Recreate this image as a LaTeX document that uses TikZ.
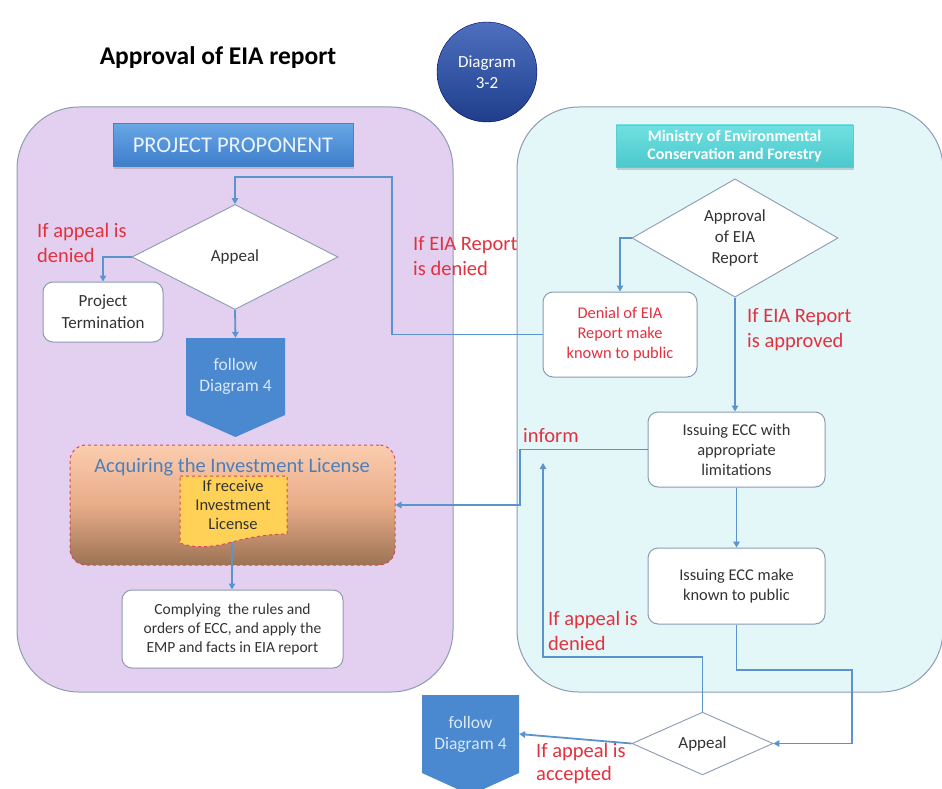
\documentclass[tikz,border=0pt]{standalone}
\usepackage{fontspec}
\setmainfont{Carlito}
\usetikzlibrary{shapes.geometric,arrows.meta,shadows}
\definecolor{lpan}{HTML}{E3D0F1}
\definecolor{rpan}{HTML}{E3F7F9}
\definecolor{panbord}{HTML}{8D9BB5}
\definecolor{connc}{HTML}{5B93CC}
\definecolor{redt}{HTML}{E2313F}
\definecolor{nbord}{HTML}{8C9BB0}
\definecolor{ntext}{HTML}{333333}
\definecolor{follc}{HTML}{4A88CF}
\definecolor{follt}{HTML}{D8E8F8}
\definecolor{acqt}{HTML}{4A7FBE}
\definecolor{dashr}{HTML}{D8475E}
\definecolor{yel}{HTML}{FFD156}
\tikzset{
  panel/.style={draw=panbord, line width=1pt, rounded corners=62pt, inner sep=0pt},
  wbox/.style={draw=nbord, fill=white, rounded corners=10pt, line width=1pt, align=center,
    text=ntext, inner sep=0pt, font=\fontsize{16.4}{20}\selectfont},
  dia/.style={diamond, draw=nbord, fill=white, line width=0.9pt, inner sep=0pt, align=center,
    text=ntext, font=\fontsize{17}{21}\selectfont},
  conn/.style={draw=connc, line width=1.8pt, -{Triangle[length=6pt,width=6.5pt]}},
  lab/.style={text=redt, font=\fontsize{20.5}{25}\selectfont, align=left, anchor=west, inner sep=0pt},
  folltext/.style={text=follt, align=center, inner sep=0pt, font=\fontsize{17.5}{21}\selectfont},
}
\begin{document}
\begin{tikzpicture}[x=1pt,y=-1pt]
\useasboundingbox (0,0) rectangle (942,789);
\clip (0,0) rectangle (942,789);
\fill[white] (0,0) rectangle (942,789);

% panels
\node[panel, fill=lpan, minimum width=436pt, minimum height=585pt] (lpanel) at (235,399.5) {};
\node[panel, fill=rpan, minimum width=426pt, minimum height=585pt] (rpanel) at (730,399.5) {};

% title and circle
\node[font=\fontsize{25.5}{28}\selectfont\bfseries, text=black, inner sep=0pt] (title) at (218,58) {Approval of EIA report};
\node[circle, minimum size=100pt, inner sep=0pt, draw=blue!40!black, top color={rgb,255:red,78;green,112;blue,190}, bottom color={rgb,255:red,30;green,62;blue,140}, text=white, align=center, font=\fontsize{17}{21}\selectfont] (circ) at (487,72) {Diagram\\3-2};

% header boxes
\node[minimum width=240pt, minimum height=43pt, inner sep=0pt, top color={rgb,255:red,104;green,166;blue,230}, bottom color={rgb,255:red,62;green,126;blue,202}, draw={rgb,255:red,70;green,130;blue,200}, drop shadow={opacity=0.35, shadow xshift=1pt, shadow yshift=-2.5pt}, text={rgb,255:red,236;green,244;blue,255}, font=\fontsize{22.5}{25}\selectfont] (pp) at (233,145) {PROJECT PROPONENT};
\node[minimum width=237pt, minimum height=42pt, inner sep=0pt, top color={rgb,255:red,112;green,224;blue,226}, bottom color={rgb,255:red,76;green,200;blue,204}, draw={rgb,255:red,90;green,205;blue,208}, drop shadow={opacity=0.35, shadow xshift=1pt, shadow yshift=-2.5pt}, text=white, align=center, font=\fontsize{16}{18}\selectfont\bfseries] (mins) at (734.5,146) {Ministry of Environmental\\Conservation and Forestry};

% left side nodes
\node[dia, minimum width=206pt, minimum height=105pt] (appeal1) at (235,257) {Appeal};
\node[wbox, minimum width=120pt, minimum height=60pt, font=\fontsize{17}{22}\selectfont] (term) at (103,312) {Project\\Termination};
\fill[follc] (186,338) -- (285,338) -- (285,415) -- (235.5,437) -- (186,415) -- cycle;
\node[folltext, minimum width=99pt, minimum height=77pt] (foll1) at (235.5,376.5) {follow\\Diagram 4};

\node[draw=dashr, dashed, line width=1pt, rounded corners=16pt, minimum width=325pt, minimum height=120pt,
  top color={rgb,255:red,251;green,205;blue,175}, bottom color={rgb,255:red,155;green,115;blue,85},
  middle color={rgb,255:red,232;green,172;blue,136}, inner sep=0pt] (acq) at (232.5,505) {};
\node[text=acqt, font=\fontsize{20.5}{24}\selectfont, inner sep=0pt] (acqtitle) at (232,467) {Acquiring the Investment License};
\draw[draw=dashr, dashed, line width=1pt, fill=yel] (180,476) -- (287,476) -- (287,534)
  .. controls (270,534) and (250,537) .. (232,542)
  .. controls (215,547) and (195,549) .. (180,543) -- cycle;
\node[text=ntext, align=center, inner sep=0pt, font=\fontsize{16.5}{19}\selectfont] (ydoc) at (233,505) {If receive\\Investment\\License};
\coordinate (ydocb) at (232,542);
\node[wbox, minimum width=221pt, minimum height=78pt, font=\fontsize{15.5}{19}\selectfont] (comply) at (232.5,629) {Complying\ \ the rules and\\orders of ECC, and apply the\\EMP and facts in EIA report};

% right side nodes
\node[dia, minimum width=206pt, minimum height=105pt] (approval) at (735,238) {Approval\\of EIA\\Report};
\node[wbox, minimum width=154pt, minimum height=85pt, text=redt] (denial) at (620,334.5) {Denial of EIA\\Report make\\known to public};
\node[wbox, minimum width=177pt, minimum height=75pt] (ecc1) at (736.5,449.5) {Issuing ECC with\\appropriate\\limitations};
\node[wbox, minimum width=177pt, minimum height=76pt] (ecc2) at (736.5,586) {Issuing ECC make\\known to public};
\node[dia, minimum width=141pt, minimum height=57pt] (appeal2) at (702.5,743.5) {Appeal};
\fill[follc] (422,695) -- (519,695) -- (519,773) -- (470.5,795) -- (422,773) -- cycle;
\node[folltext, minimum width=97pt, minimum height=78pt] (foll2) at (470.5,734) {follow\\Diagram 4};

% coordinates for bends
\coordinate (c1) at (392,177);
\coordinate (c2) at (520,449.5);
\coordinate (c3) at (852,670);
\coordinate (c5) at (543,657);
\coordinate (c4) at (543,463);

% connectors
\draw[conn] (denial.west) -| (c1) -| (appeal1.north);
\draw[conn] (appeal1.west) -| (term.north);
\draw[conn] (appeal1.south) -- (foll1.north);
\draw[conn] (ydocb) -- (ydocb |- comply.north);
\draw[conn] (approval.west) -| (denial.north);
\draw[conn] (approval.south) -- (approval.south |- ecc1.north);
\draw[conn] (ecc1.south) -- (ecc2.north);
\draw[conn] (ecc1.west) -- (c2) |- (acq.east);
\draw[conn] (ecc2.south) |- (c3) |- (appeal2.east);
\draw[conn] (appeal2.north) |- (c5) -- (c4);
\draw[conn] (appeal2.west) -- (foll2.east);

% labels
\node[lab] (l1) at (37,243) {If appeal is\\denied};
\node[lab] (l2) at (413,256) {If EIA Report\\is denied};
\node[lab] (l3) at (747,330) {If EIA Report\\is approved};
\node[lab] (l4) at (523,436) {inform};
\node[lab] (l5) at (548,631) {If appeal is\\denied};
\node[lab, font=\fontsize{20.5}{23}\selectfont] (l6) at (536,764) {If appeal is\\accepted};
\end{tikzpicture}
\end{document}
